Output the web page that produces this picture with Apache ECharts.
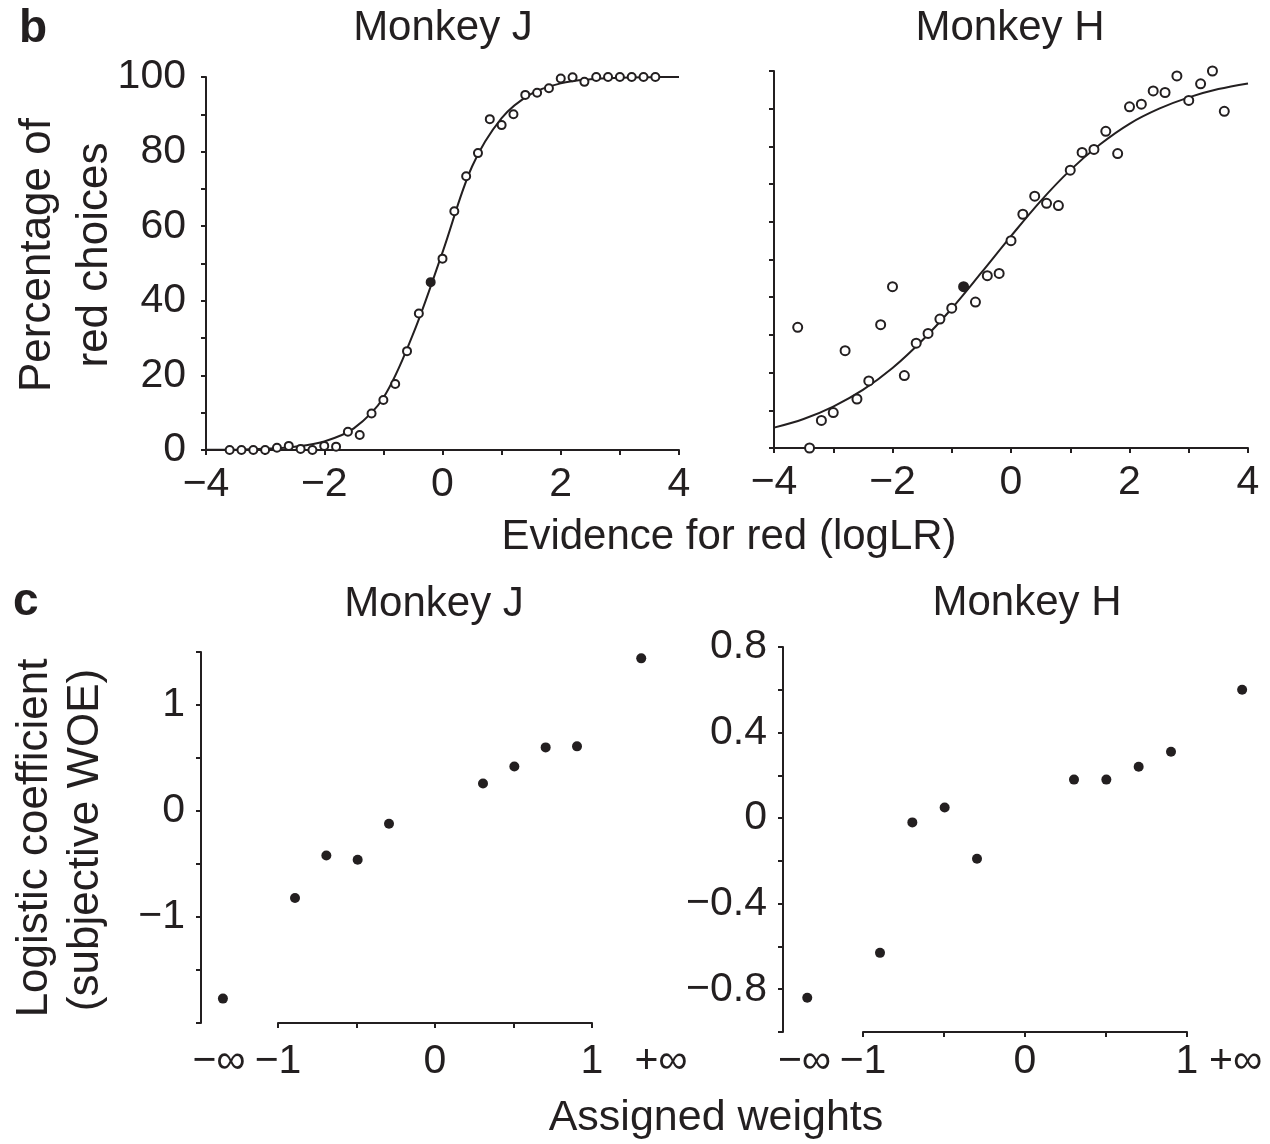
<!DOCTYPE html>
<html><head><meta charset="utf-8">
<script src="https://cdn.jsdelivr.net/npm/echarts@6/dist/echarts.min.js"></script>
<style>html,body{margin:0;padding:0;background:#fff}#c{width:1270px;height:1144px}</style>
</head><body><div id="c"></div>
<script>
// ---------- Panel b: psychometric data ----------
const evidenceBins = [-3.6,-3.4,-3.2,-3.0,-2.8,-2.6,-2.4,-2.2,-2.0,-1.8,-1.6,-1.4,-1.2,-1.0,-0.8,-0.6,-0.4,-0.2,0.0,0.2,0.4,0.6,0.8,1.0,1.2,1.4,1.6,1.8,2.0,2.2,2.4,2.6,2.8,3.0,3.2,3.4,3.6];
const monkeyJPct = [0,0,0,0,0.6,1.1,0.3,0,1.1,0.9,4.9,4.0,9.8,13.4,17.7,26.5,36.6,45.0,51.3,64.0,73.4,79.6,88.7,87.1,90.0,95.2,95.8,97.0,99.6,99.9,98.7,100,100,100,100,100,100];
const monkeyHPct = [32.0,0,7.3,9.4,25.8,13.0,17.8,32.7,42.8,19.2,27.8,30.4,34.2,37.1,42.8,38.7,45.7,46.3,55.0,62.0,66.8,64.9,64.3,73.7,78.4,79.2,84.0,78.1,90.5,91.2,94.7,94.3,98.7,92.2,96.6,100,89.3];
const filledJ = [17];   // index of the solid marker in Monkey J
const filledH = [14];   // index of the solid marker in Monkey H
// fitted curves
const curveX = [-4,-3.5,-3,-2.5,-2,-1.5,-1,-0.5,0,0.5,1,1.5,2,2.5,3,3.5,4];
const curveJ = [0.05,0.1,0.35,0.9,2.3,5.8,14,31,53,76,89,95.5,98.3,99.4,99.8,99.95,100];
const curveH = [5.4,7.7,11.0,15.4,21.2,28.5,37.0,46.5,56.2,65.5,73.7,80.5,86.0,90.0,93.0,95.2,96.7];

// ---------- Panel c: subjective weights ----------
// assigned weights; the first and last entries are the -inf / +inf shapes, plotted at these axis positions
const weightsJ = [-1.36,-0.9,-0.7,-0.5,-0.3,0.3,0.5,0.7,0.9,1.31];
const coefJ = [-1.77,-0.82,-0.42,-0.46,-0.12,0.26,0.42,0.60,0.61,1.44];
const weightsH = [-1.35,-0.9,-0.7,-0.5,-0.3,0.3,0.5,0.7,0.9,1.34];
const coefH = [-0.84,-0.63,-0.02,0.05,-0.19,0.18,0.18,0.24,0.31,0.60];

const INK = '#231f20';
const FONT = '"Liberation Sans", Arial, Helvetica, sans-serif';
const TICKFS = 41;
const fmt = v => String(v).replace('-', '\u2212');
const zip = (xs, ys) => xs.map((x, i) => [x, ys[i]]);

function axisCommon(extra) {
  return Object.assign({
    type: 'value',
    axisLine: {show: true, onZero: false, lineStyle: {color: INK, width: 2}},
    axisTick: {show: true, length: 5, lineStyle: {color: INK, width: 2}},
    splitLine: {show: false},
  }, extra);
}
function lbl(margin, formatter, extra) {
  return Object.assign({show: true, margin, fontSize: TICKFS, color: INK, fontFamily: FONT, formatter}, extra || {});
}

const chart = echarts.init(document.getElementById('c'));

function scatterData(xs, ys, filled) {
  return xs.map((x, i) => filled.includes(i)
    ? {value: [x, ys[i]], itemStyle: {color: INK}}
    : {value: [x, ys[i]]});
}

const option = {
  backgroundColor: '#fff',
  animation: false,
  grid: [
    {left: 206, top: 77, width: 473, height: 373},      // b, Monkey J
    {left: 774, top: 71, width: 474, height: 377},      // b, Monkey H
    {left: 201, top: 652, width: 470, height: 371},     // c, Monkey J
    {left: 278, top: 652, width: 314, height: 371},     // c, Monkey J weight axis
    {left: 783, top: 647, width: 485, height: 385},     // c, Monkey H
    {left: 863, top: 647, width: 324, height: 385},     // c, Monkey H weight axis
  ],
  xAxis: [
    axisCommon({gridIndex: 0, min: -4, max: 4, interval: 1,
      axisLabel: lbl(14, v => (v % 2 === 0 ? fmt(v) : ''))}),
    axisCommon({gridIndex: 1, min: -4, max: 4, interval: 1,
      axisLabel: lbl(14, v => (v % 2 === 0 ? fmt(v) : ''))}),
    axisCommon({gridIndex: 2, min: -1.5, max: 1.5,
      axisLine: {show: false}, axisTick: {show: false},
      axisLabel: lbl(18, v => (v < 0 ? '\u2212\u221e' : '+\u221e'), {customValues: [-1.385, 1.436]})}),
    axisCommon({gridIndex: 3, min: -1, max: 1, interval: 0.5,
      axisLabel: lbl(18, v => (Number.isInteger(v) ? fmt(v) : ''))}),
    axisCommon({gridIndex: 4, min: -1.5, max: 1.5,
      axisLine: {show: false}, axisTick: {show: false},
      axisLabel: lbl(9, v => (v < 0 ? '\u2212\u221e' : '+\u221e'), {customValues: [-1.367, 1.30]})}),
    axisCommon({gridIndex: 5, min: -1, max: 1, interval: 0.5,
      axisLabel: lbl(9, v => (Number.isInteger(v) ? fmt(v) : ''))}),
  ],
  yAxis: [
    axisCommon({gridIndex: 0, min: 0, max: 100, interval: 10,
      axisLabel: lbl(20, v => (v % 20 === 0 ? String(v) : ''))}),
    axisCommon({gridIndex: 1, min: 0, max: 100, interval: 10, axisLabel: {show: false}}),
    axisCommon({gridIndex: 2, min: -2, max: 1.5, interval: 0.5,
      axisLabel: lbl(16, v => (Number.isInteger(v) && v > -2 ? fmt(v) : ''))}),
    {gridIndex: 3, type: 'value', show: false, min: -2, max: 1.5},
    axisCommon({gridIndex: 4, min: -1, max: 0.8, interval: 0.2,
      axisLabel: lbl(16, v => { const r = Math.round(v * 10); return r % 4 === 0 ? fmt(r / 10) : ''; })}),
    {gridIndex: 5, type: 'value', show: false, min: -1, max: 0.8},
  ],
  series: [
    {type: 'line', xAxisIndex: 0, yAxisIndex: 0, data: zip(curveX, curveJ), smooth: 0.35,
      showSymbol: false, symbol: 'none', lineStyle: {color: INK, width: 2}, z: 2},
    {type: 'scatter', xAxisIndex: 0, yAxisIndex: 0, data: scatterData(evidenceBins, monkeyJPct, filledJ),
      symbol: 'circle', symbolSize: 8, clip: false, itemStyle: {color: '#fff', borderColor: INK, borderWidth: 2, opacity: 1}, z: 3},
    {type: 'line', xAxisIndex: 1, yAxisIndex: 1, data: zip(curveX, curveH), smooth: 0.35,
      showSymbol: false, symbol: 'none', lineStyle: {color: INK, width: 2}, z: 2},
    {type: 'scatter', xAxisIndex: 1, yAxisIndex: 1, data: scatterData(evidenceBins, monkeyHPct, filledH),
      symbol: 'circle', symbolSize: 9, clip: false, itemStyle: {color: '#fff', borderColor: INK, borderWidth: 2, opacity: 1}, z: 3},
    {type: 'scatter', xAxisIndex: 2, yAxisIndex: 2, data: zip(weightsJ, coefJ),
      symbol: 'circle', symbolSize: 10, clip: false, itemStyle: {color: INK, opacity: 1}},
    {type: 'scatter', xAxisIndex: 4, yAxisIndex: 4, data: zip(weightsH, coefH),
      symbol: 'circle', symbolSize: 10, clip: false, itemStyle: {color: INK, opacity: 1}},
  ],
  graphic: [
    {type: 'text', x: 19, y: 29, style: {text: 'b', fontSize: 46, fontWeight: 'bold', fontFamily: FONT, fill: INK, align: 'left', verticalAlign: 'middle'}},
    {type: 'text', x: 13, y: 602, style: {text: 'c', fontSize: 46, fontWeight: 'bold', fontFamily: FONT, fill: INK, align: 'left', verticalAlign: 'middle'}},
    {type: 'text', x: 443, y: 28, style: {text: 'Monkey J', fontSize: 42, fontFamily: FONT, fill: INK, align: 'center', verticalAlign: 'middle'}},
    {type: 'text', x: 1010, y: 28, style: {text: 'Monkey H', fontSize: 42, fontFamily: FONT, fill: INK, align: 'center', verticalAlign: 'middle'}},
    {type: 'text', x: 434, y: 604, style: {text: 'Monkey J', fontSize: 42, fontFamily: FONT, fill: INK, align: 'center', verticalAlign: 'middle'}},
    {type: 'text', x: 1027, y: 603, style: {text: 'Monkey H', fontSize: 42, fontFamily: FONT, fill: INK, align: 'center', verticalAlign: 'middle'}},
    {type: 'text', x: 729, y: 537, style: {text: 'Evidence for red (logLR)', fontSize: 42, fontFamily: FONT, fill: INK, align: 'center', verticalAlign: 'middle'}},
    {type: 'text', x: 716, y: 1118, style: {text: 'Assigned weights', fontSize: 43, fontFamily: FONT, fill: INK, align: 'center', verticalAlign: 'middle'}},
    {type: 'text', x: 38, y: 255, rotation: Math.PI / 2, style: {text: 'Percentage of', fontSize: 44, fontFamily: FONT, fill: INK, align: 'center', verticalAlign: 'middle'}},
    {type: 'text', x: 95, y: 255, rotation: Math.PI / 2, style: {text: 'red choices', fontSize: 44, fontFamily: FONT, fill: INK, align: 'center', verticalAlign: 'middle'}},
    {type: 'text', x: 35, y: 838, rotation: Math.PI / 2, style: {text: 'Logistic coefficient', fontSize: 44, fontFamily: FONT, fill: INK, align: 'center', verticalAlign: 'middle'}},
    {type: 'text', x: 86, y: 840, rotation: Math.PI / 2, style: {text: '(subjective WOE)', fontSize: 44, fontFamily: FONT, fill: INK, align: 'center', verticalAlign: 'middle'}},
  ],
};
chart.setOption(option);
</script>
</body></html>
